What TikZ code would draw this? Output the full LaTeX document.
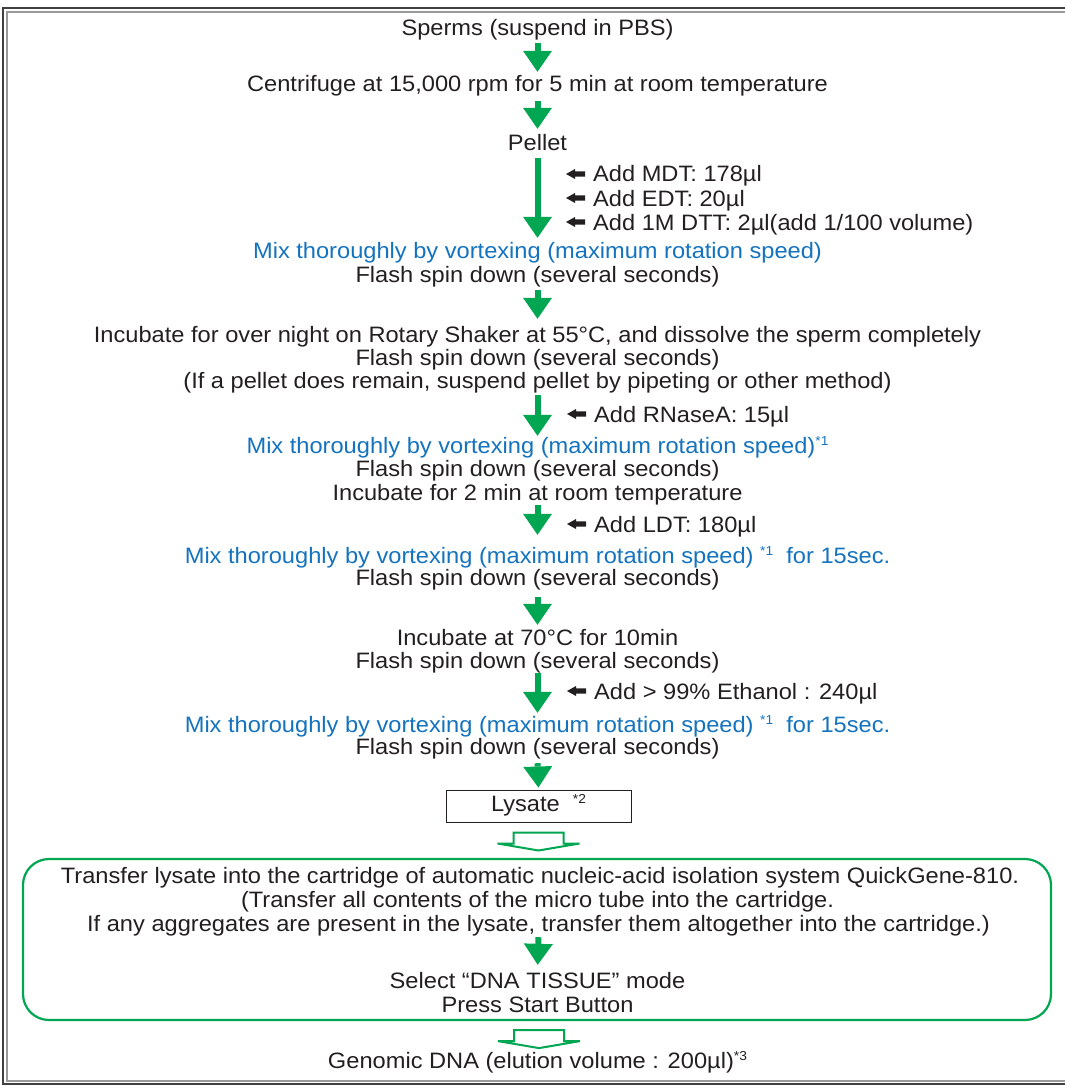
\documentclass[tikz,border=0pt]{standalone}
\usepackage{fontspec}
\setmainfont{Liberation Sans}[FakeStretch=1.06]
\usetikzlibrary{arrows.meta}
\definecolor{qgreen}{RGB}{0,166,81}
\definecolor{qblue}{RGB}{20,115,190}
\definecolor{qtext}{RGB}{35,31,32}
\newcommand\fnm[1]{\raisebox{8pt}{\fontsize{13pt}{13pt}\selectfont *#1}}
\begin{document}
\begin{tikzpicture}[x=1pt,y=-1pt,
  txt/.style={font=\fontsize{22.3pt}{24pt}\selectfont, text=qtext, inner sep=0pt,
    text height=16pt, text depth=5pt, anchor=base},
  btxt/.style={txt, text=qblue},
  addtxt/.style={txt, anchor=base west},
  garrow/.style={draw=qgreen, line width=6pt,
    -{Triangle[length=21pt,width=29pt,line width=0pt]}},
  addarr/.pic={\fill[qtext] (-27,0) -- (-18,-5) -- (-18,-2.6) -- (-8,-2.6) -- (-8,2.6) -- (-18,2.6) -- (-18,5) -- cycle;},
  openarr/.pic={\draw[qgreen, line width=2pt, fill=white, line join=miter]
    (-25,0) -- (25,0) -- (25,11) -- (41,11) -- (0,18) -- (-41,11) -- (-25,11) -- cycle;}
]
\useasboundingbox (0,0) rectangle (1065,1086);
% frame (right side lies outside the picture)
\draw[black!75, line width=1.6pt] (1065,8) -- (3,8) -- (3,1084) -- (1065,1084);
\draw[black!40, line width=1.2pt] (1065,12) -- (7,12) -- (7,1081) -- (1065,1081);

% text lines
\node[txt] (sperms) at (537.5,36) {Sperms (suspend in PBS)};
\node[txt] (centrifuge) at (537.5,92) {Centrifuge at 15,000 rpm for 5 min at room temperature};
\node[txt] (pellet) at (537.5,151) {Pellet};
\node[addtxt] (mdt) at (593,182) {Add MDT: 178µl};
\node[addtxt] (edt) at (593,206) {Add EDT: 20µl};
\node[addtxt] (dtt) at (593,230) {Add 1M DTT: 2µl(add 1/100 volume)};
\node[btxt] (mixa) at (537.5,258) {Mix thoroughly by vortexing (maximum rotation speed)};
\node[txt] (flasha) at (537.5,282) {Flash spin down (several seconds)};
\node[txt] (incuba) at (537.5,342) {Incubate for over night on Rotary Shaker at 55°C, and dissolve the sperm completely};
\node[txt] (flashb) at (537.5,365) {Flash spin down (several seconds)};
\node[txt] (ifpel) at (537.5,388) {(If a pellet does remain, suspend pellet by pipeting or other method)};
\node[addtxt] (rnase) at (594,422) {Add RNaseA: 15µl};
\node[btxt] (mixb) at (537.5,453) {Mix thoroughly by vortexing (maximum rotation speed)\fnm{1}};
\node[txt] (flashc) at (537.5,476) {Flash spin down (several seconds)};
\node[txt] (incubb) at (537.5,500) {Incubate for 2 min at room temperature};
\node[addtxt] (ldt) at (594,532) {Add LDT: 180µl};
\node[btxt] (mixc) at (537.5,563) {Mix thoroughly by vortexing (maximum rotation speed) \fnm{1}\ \ for 15sec.};
\node[txt] (flashd) at (537.5,585) {Flash spin down (several seconds)};
\node[txt] (incubc) at (537.5,645) {Incubate at 70°C for 10min};
\node[txt] (flashe) at (537.5,668) {Flash spin down (several seconds)};
\node[addtxt] (ethanol) at (594,699) {Add > 99\% Ethanol : 240µl};
\node[btxt] (mixd) at (537.5,732) {Mix thoroughly by vortexing (maximum rotation speed) \fnm{1}\ \ for 15sec.};
\node[txt] (flashf) at (537.5,754) {Flash spin down (several seconds)};
\node[txt, anchor=center, draw=qtext, line width=1pt, minimum width=185pt, minimum height=32pt]
  (lysate) at (538.5,806) {Lysate\ \ \fnm{2}};

% QuickGene box
\node[draw=qgreen, line width=2.2pt, rounded corners=26pt, minimum width=1028pt,
  minimum height=161pt, inner sep=0pt] (qg) at (537,939.5) {};
\node[txt] (tra) at (540,883) {Transfer lysate into the cartridge of automatic nucleic-acid isolation system QuickGene-810.};
\node[txt] (trb) at (537.5,907) {(Transfer all contents of the micro tube into the cartridge.};
\node[txt] (trc) at (538.5,931) {If any aggregates are present in the lysate, transfer them altogether into the cartridge.)};
\node[txt] (sel) at (537.5,988) {Select “DNA TISSUE” mode};
\node[txt] (press) at (537.5,1012) {Press Start Button};
\node[txt] (genomic) at (537.5,1068) {Genomic DNA (elution volume : 200µl)\fnm{3}};

% add arrows
\pic at ([yshift=8pt]mdt.base west) {addarr};
\pic at ([yshift=8pt]edt.base west) {addarr};
\pic at ([yshift=8pt]dtt.base west) {addarr};
\pic at ([yshift=8pt]rnase.base west) {addarr};
\pic at ([yshift=8pt]ldt.base west) {addarr};
\pic at ([yshift=8pt]ethanol.base west) {addarr};

% green arrows
\draw[garrow, shorten <=2pt, shorten >=4pt] (sperms.south) -- (centrifuge.north);
\draw[garrow, shorten <=4pt, shorten >=6pt] (centrifuge.south) -- (pellet.north);
\draw[garrow, shorten <=2pt, shorten >=4pt] (pellet.south) -- (mixa.north);
\draw[garrow, shorten <=3pt, shorten >=7pt] (flasha.south) -- (incuba.north);
\draw[garrow, shorten <=2pt, shorten >=1pt] (ifpel.south) -- (mixb.north);
\draw[garrow, shorten <=0pt, shorten >=12pt] (incubb.south) -- (mixc.north);
\draw[garrow, shorten <=7pt, shorten >=4pt] (flashd.south) -- (incubc.north);
\draw[garrow, shorten <=0pt, shorten >=3pt] (flashe.south) -- (mixd.north);
\draw[garrow, shorten <=4pt, shorten >=2pt] (flashf.south) -- (lysate.north);
\draw[garrow, shorten <=1pt, shorten >=7pt] (trc.south) -- (sel.north);

% open arrows
\pic at ([yshift=-10pt]lysate.south) {openarr};
\pic at ([yshift=-9pt,xshift=2pt]qg.south) {openarr};
\end{tikzpicture}
\end{document}
